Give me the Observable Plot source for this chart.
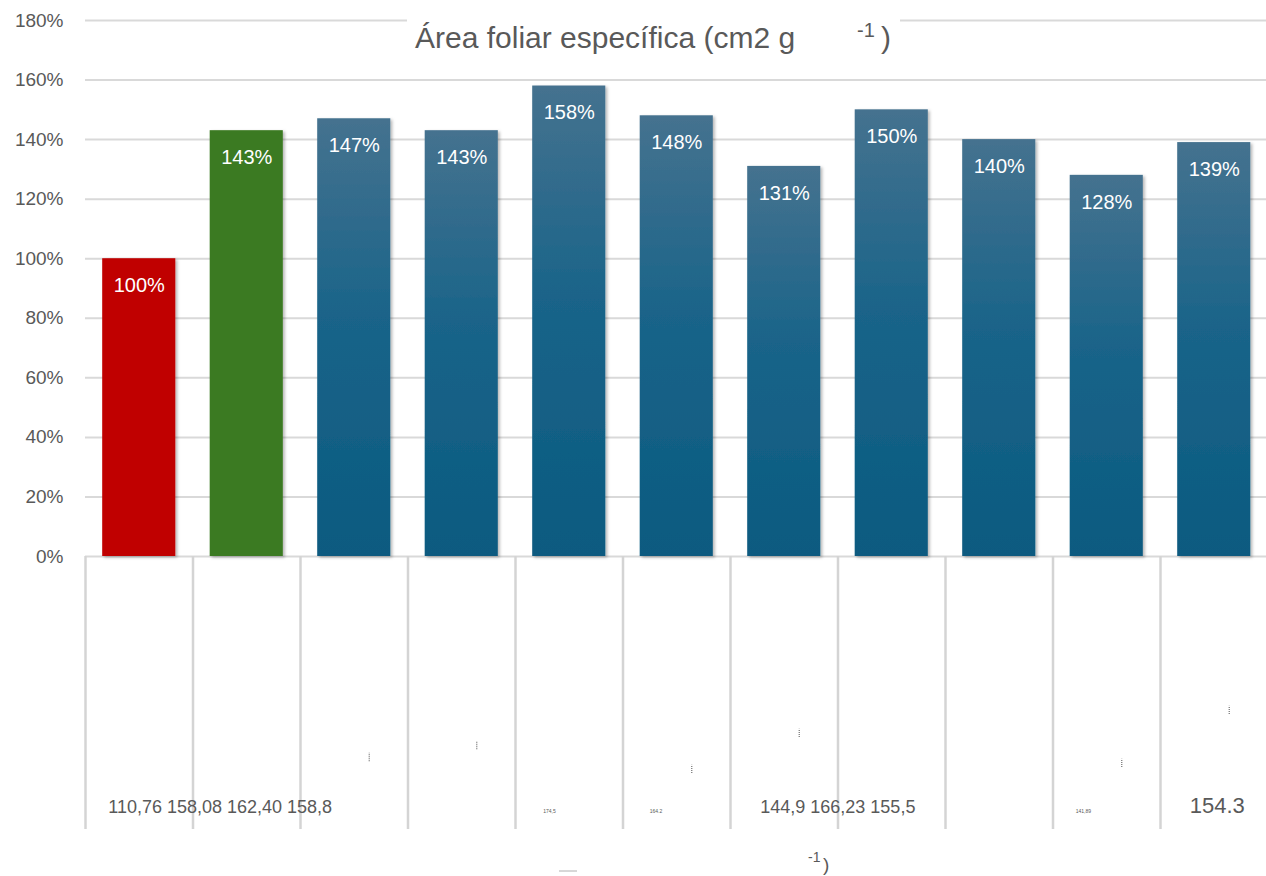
<!DOCTYPE html>
<html>
<head>
<meta charset="utf-8">
<script src="https://cdn.jsdelivr.net/npm/d3@7"></script>
<script src="https://cdn.jsdelivr.net/npm/@observablehq/plot@0.6"></script>
<style>
  html, body { margin: 0; padding: 0; background: #fff; }
  #chart { position: relative; width: 1266px; height: 876px; }
  svg { font-family: "Liberation Sans", Arial, sans-serif; }
</style>
</head>
<body>
<div id="chart"></div>
<script>
// Tratamientos y área foliar específica relativa al testigo (%)
const tratamientos = ["T1", "T2", "T3", "T4", "T5", "T6", "T7", "T8", "T9", "T10", "T11"];
const porcentajes = [100, 143, 147, 143, 158, 148, 131, 150, 140, 128, 139];
const tipoBarra = ["testigo", "referencia", "ensayo", "ensayo", "ensayo", "ensayo", "ensayo", "ensayo", "ensayo", "ensayo", "ensayo"];
const ticksY = [0, 20, 40, 60, 80, 100, 120, 140, 160, 180];

// Valores absolutos (cm2 g-1) escritos en la tabla bajo las barras
const tablaCategoria = ["T1", "T5", "T6", "T7", "T10", "T11"];
const tablaTexto = ["110,76 158,08 162,40 158,8", "174,5", "164.2", "144,9 166,23 155,5", "141,89", "154.3"];
// Marcas diminutas dentro de las celdas de la tabla
const marcaCategoria = ["T3", "T4", "T6", "T7", "T10", "T11"];
const marcaNivel = [-67.5, -63.5, -71.5, -59.4, -69.5, -51.7];

const colores = { testigo: "#c00000", referencia: "#3b7a23", ensayo: "url(#azul)" };

const datos = tratamientos.map((t, i) => ({ t, v: porcentajes[i], fill: colores[tipoBarra[i]] }));
const tabla = tablaCategoria.map((t, i) => ({ t, texto: tablaTexto[i] }));
const marcas = marcaCategoria.map((t, i) => ({ t, y: marcaNivel[i] }));

const W = 1266, H = 876, mL = 85, mT = 20;
const xRango = [85, 1267.5];
const padIn = 0.32, padOut = 0.16;
const paso = (xRango[1] - xRango[0]) / (tratamientos.length - padIn + 2 * padOut);
// 0 % en y=556 y 180 % en y=20; el resto del alto corresponde a la tabla
const yMin = 180 - (H - mT) * 180 / 536;

// Formato de cada texto de la tabla: tamaño, anclaje y desplazamiento desde el centro de la celda
const estiloTabla = [
  { size: 18, anchor: "start", dx: -31 },
  { size: 5, anchor: "start", dx: -26 },
  { size: 5, anchor: "start", dx: -27 },
  { size: 18, anchor: "start", dx: -24 },
  { size: 5, anchor: "start", dx: -31 },
  { size: 22, anchor: "middle", dx: 3 }
];

const chart = Plot.plot({
  width: W,
  height: H,
  marginLeft: mL,
  marginRight: 0,
  marginTop: mT,
  marginBottom: 0,
  style: { fontFamily: "Liberation Sans, Arial, sans-serif", background: "white" },
  x: { domain: tratamientos, range: xRango, paddingInner: padIn, paddingOuter: padOut, round: false, axis: null },
  y: { domain: [yMin, 180], axis: null },
  color: { type: "identity" },
  marks: [
    Plot.gridY(ticksY, { stroke: "#d9d9d9", strokeOpacity: 1, strokeWidth: 2 }),
    Plot.axisY(ticksY, {
      tickSize: 0, tickPadding: 22, fontSize: 19, fill: "#595959",
      tickFormat: d => d + "%", label: null
    }),
    Plot.ruleX(tratamientos, {
      x: d => d, dx: -paso / 2, y1: 0, y2: -91.7,
      stroke: "#d4d4d4", strokeWidth: 2.5
    }),
    Plot.barY(datos, { x: "t", y: "v", fill: "fill" }),
    Plot.text(datos, {
      x: "t", y: "v", text: d => d.v + "%", dy: 27,
      fill: "white", fontSize: 20, lineAnchor: "middle"
    }),
    ...tabla.map((d, i) => Plot.text([d], {
      x: "t", y: () => -86, text: "texto",
      dx: estiloTabla[i].dx, textAnchor: estiloTabla[i].anchor,
      fontSize: estiloTabla[i].size, fill: "#595959", lineAnchor: "bottom"
    })),
    Plot.ruleX(marcas, {
      x: "t", dx: 15, y1: d => d.y - 1.4, y2: d => d.y + 1.4,
      stroke: "#7a7a7a", strokeWidth: 1.3, strokeDasharray: "1,1"
    })
  ]
});

const svg = d3.select(chart);
const defs = svg.insert("defs", ":first-child");
const grad = defs.append("linearGradient").attr("id", "azul")
  .attr("x1", 0).attr("y1", 0).attr("x2", 0).attr("y2", 1);
grad.append("stop").attr("offset", "0%").attr("stop-color", "#45728f");
grad.append("stop").attr("offset", "45%").attr("stop-color", "#1a6489");
grad.append("stop").attr("offset", "100%").attr("stop-color", "#0a5a80");
const sombra = defs.append("filter").attr("id", "sombra")
  .attr("x", "-10%").attr("y", "-10%").attr("width", "130%").attr("height", "120%");
sombra.append("feDropShadow").attr("dx", 2).attr("dy", 1.5)
  .attr("stdDeviation", 1.5).attr("flood-color", "#000").attr("flood-opacity", 0.28);
svg.selectAll("g[aria-label=bar] rect").attr("filter", "url(#sombra)");

// Título sobre la línea de 180 %
const titulo = svg.append("g").attr("fill", "#595959").attr("text-anchor", "start");
titulo.append("rect").attr("x", 407).attr("y", 0).attr("width", 493).attr("height", 60).attr("fill", "white");
titulo.append("text").attr("x", 415).attr("y", 48).attr("font-size", 30).text("Área foliar específica (cm2 g");
titulo.append("text").attr("x", 857).attr("y", 37).attr("font-size", 20).text("-1");
titulo.append("text").attr("x", 881).attr("y", 48).attr("font-size", 30).text(")");

// Resto del rótulo del eje inferior
const pie = svg.append("g").attr("fill", "#595959").attr("text-anchor", "start");
pie.append("line").attr("x1", 559).attr("x2", 577).attr("y1", 871).attr("y2", 871)
  .attr("stroke", "#b0b0b0").attr("stroke-width", 1);
pie.append("text").attr("x", 808).attr("y", 862).attr("font-size", 14).text("-1");
pie.append("text").attr("x", 823).attr("y", 871).attr("font-size", 19).text(")");

document.getElementById("chart").append(chart);
</script>
</body>
</html>
